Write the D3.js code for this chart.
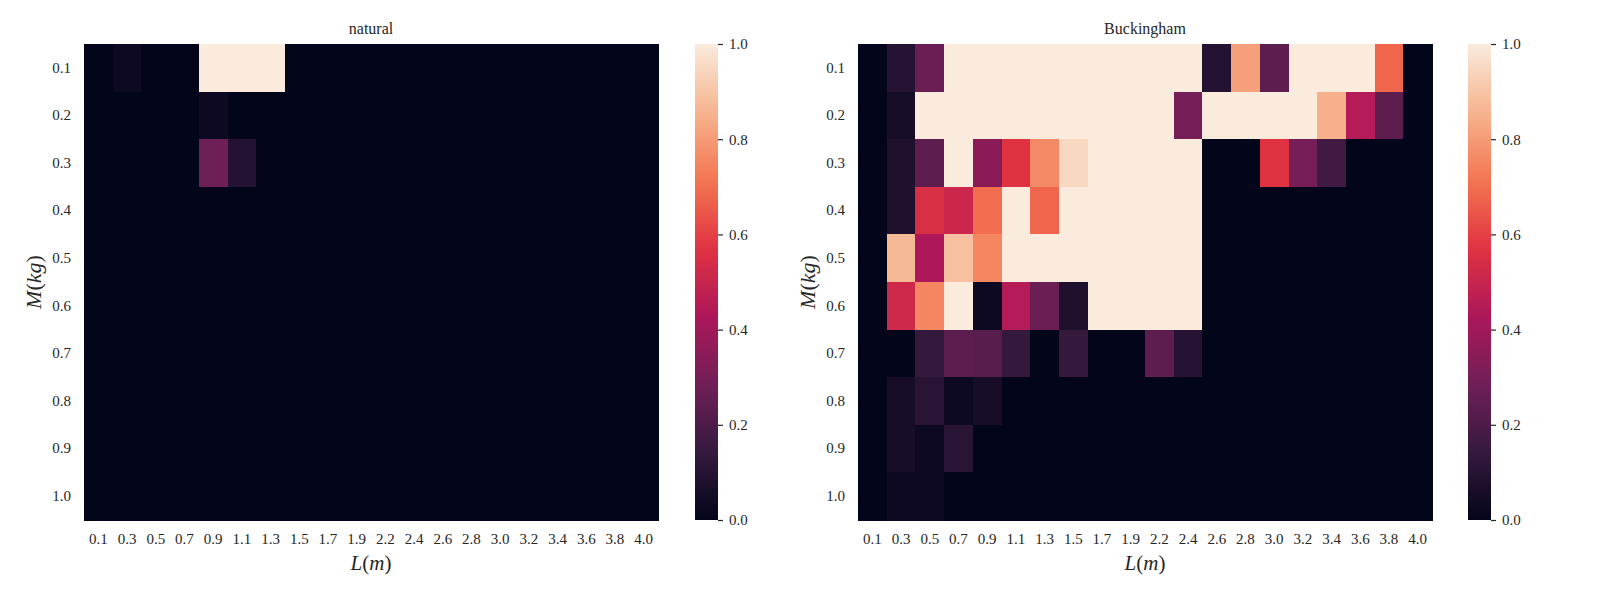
<!DOCTYPE html>
<html>
<head>
<meta charset="utf-8">
<script src="https://cdn.jsdelivr.net/npm/d3@7"></script>
<style>
  html, body { margin: 0; padding: 0; background: #fff; }
  svg { display: block; font-family: "Liberation Serif", "DejaVu Serif", serif; }
</style>
</head>
<body>
<svg id="chart" width="1600" height="600"></svg>
<script>
// ---- data ----
const lengths = ["0.1","0.3","0.5","0.7","0.9","1.1","1.3","1.5","1.7","1.9","2.2","2.4","2.6","2.8","3.0","3.2","3.4","3.6","3.8","4.0"];
const masses = ["0.1","0.2","0.3","0.4","0.5","0.6","0.7","0.8","0.9","1.0"];
const colorbarTicks = [0, 0.2, 0.4, 0.6, 0.8, 1.0];
const titles = ["natural", "Buckingham"];

const natural = [
  [0,0.03,0,0,1,1,1,0,0,0,0,0,0,0,0,0,0,0,0,0],
  [0,0,0,0,0.03,0,0,0,0,0,0,0,0,0,0,0,0,0,0,0],
  [0,0,0,0,0.28,0.09,0,0,0,0,0,0,0,0,0,0,0,0,0,0],
  [0,0,0,0,0,0,0,0,0,0,0,0,0,0,0,0,0,0,0,0],
  [0,0,0,0,0,0,0,0,0,0,0,0,0,0,0,0,0,0,0,0],
  [0,0,0,0,0,0,0,0,0,0,0,0,0,0,0,0,0,0,0,0],
  [0,0,0,0,0,0,0,0,0,0,0,0,0,0,0,0,0,0,0,0],
  [0,0,0,0,0,0,0,0,0,0,0,0,0,0,0,0,0,0,0,0],
  [0,0,0,0,0,0,0,0,0,0,0,0,0,0,0,0,0,0,0,0],
  [0,0,0,0,0,0,0,0,0,0,0,0,0,0,0,0,0,0,0,0]
];

const buckingham = [
  [0,0.10,0.27,1,1,1,1,1,1,1,1,1,0.09,0.81,0.24,1,1,1,0.68,0],
  [0,0.06,1,1,1,1,1,1,1,1,1,0.30,1,1,1,1,0.85,0.45,0.24,0],
  [0,0.08,0.24,1,0.35,0.57,0.76,0.95,1,1,1,1,0,0,0.57,0.30,0.17,0,0,0],
  [0,0.08,0.55,0.51,0.70,1,0.68,1,1,1,1,1,0,0,0,0,0,0,0,0],
  [0,0.87,0.43,0.89,0.75,1,1,1,1,1,1,1,0,0,0,0,0,0,0,0],
  [0,0.52,0.75,1,0.03,0.45,0.27,0.08,1,1,1,1,0,0,0,0,0,0,0,0],
  [0,0,0.14,0.24,0.23,0.14,0,0.14,0,0,0.24,0.10,0,0,0,0,0,0,0,0],
  [0,0.06,0.11,0.03,0.06,0,0,0,0,0,0,0,0,0,0,0,0,0,0,0],
  [0,0.06,0.03,0.11,0,0,0,0,0,0,0,0,0,0,0,0,0,0,0,0],
  [0,0.03,0.03,0,0,0,0,0,0,0,0,0,0,0,0,0,0,0,0,0]
];

// seaborn "rocket" colormap anchors
const rocketStops = ["#03051a","#35193e","#701f57","#ad1759","#e13342","#f37651","#f6b48f","#faebdd"];
const rocketPos = [0, 1/7, 2/7, 3/7, 4/7, 5/7, 6/7, 1];

// ---- layout ----
const svg = d3.select("#chart");
const textColor = "#262626";
const panels = [
  { title: titles[0], data: natural, x0: 84, x1: 658, cb0: 695, cb1: 718 },
  { title: titles[1], data: buckingham, x0: 858, x1: 1432, cb0: 1468, cb1: 1491 }
];
const y0 = 44, y1 = 520;

const rocket = d3.scaleLinear().domain(rocketPos).range(rocketStops).interpolate(d3.interpolateRgb).clamp(true);
const color = d3.scaleSequential(t => rocket(t)).domain([0, 1]);

const defs = svg.append("defs");
const grad = defs.append("linearGradient").attr("id", "rocketGrad")
  .attr("x1", "0").attr("y1", "1").attr("x2", "0").attr("y2", "0");
d3.range(0, 1.0001, 0.02).forEach(t => {
  grad.append("stop").attr("offset", t).attr("stop-color", color(t));
});

panels.forEach(p => {
  const x = d3.scaleBand().domain(lengths).range([p.x0, p.x1]).padding(0);
  const y = d3.scaleBand().domain(masses).range([y0, y1]).padding(0);

  const cells = [];
  p.data.forEach((row, i) => row.forEach((v, j) => cells.push({ m: masses[i], l: lengths[j], v })));

  const g = svg.append("g");
  g.selectAll("rect.cell").data(cells).enter().append("rect")
    .attr("class", "cell")
    .attr("x", d => x(d.l))
    .attr("y", d => y(d.m))
    .attr("width", x.bandwidth() + 0.5)
    .attr("height", y.bandwidth() + 0.5)
    .attr("fill", d => color(d.v))
    .attr("shape-rendering", "crispEdges");

  // x axis
  const xAxis = g.append("g").attr("transform", `translate(0,${y1 + 13})`)
    .call(d3.axisBottom(x).tickSize(0).tickPadding(0));
  xAxis.select(".domain").remove();
  xAxis.selectAll("text").attr("font-size", 15).attr("fill", textColor)
    .attr("font-family", "Liberation Serif").attr("dy", "0.71em");

  // y axis
  const yAxis = g.append("g").attr("transform", `translate(${p.x0 - 13},0)`)
    .call(d3.axisLeft(y).tickSize(0).tickPadding(0));
  yAxis.select(".domain").remove();
  yAxis.selectAll("text").attr("font-size", 15).attr("fill", textColor)
    .attr("font-family", "Liberation Serif");

  // title
  g.append("text").attr("x", (p.x0 + p.x1) / 2).attr("y", 34)
    .attr("text-anchor", "middle").attr("font-size", 16).attr("fill", textColor)
    .text(p.title);

  // x label L(m)
  const xl = g.append("text").attr("x", (p.x0 + p.x1) / 2).attr("y", 570)
    .attr("text-anchor", "middle").attr("font-size", 21).attr("fill", textColor);
  xl.append("tspan").attr("font-style", "italic").text("L");
  xl.append("tspan").text("(");
  xl.append("tspan").attr("font-style", "italic").text("m");
  xl.append("tspan").text(")");

  // y label M(kg)
  const yl = g.append("text")
    .attr("transform", `translate(${p.x0 - 43},${(y0 + y1) / 2}) rotate(-90)`)
    .attr("text-anchor", "middle").attr("font-size", 22).attr("fill", textColor);
  yl.append("tspan").attr("font-style", "italic").text("M");
  yl.append("tspan").text("(");
  yl.append("tspan").attr("font-style", "italic").text("kg");
  yl.append("tspan").text(")");

  // colorbar
  g.append("rect").attr("x", p.cb0).attr("y", y0).attr("width", p.cb1 - p.cb0).attr("height", y1 - y0)
    .attr("fill", "url(#rocketGrad)");
  const cbScale = d3.scaleLinear().domain([0, 1]).range([y1, y0]);
  const cbAxis = g.append("g").attr("transform", `translate(${p.cb1},0)`)
    .call(d3.axisRight(cbScale).tickValues(colorbarTicks).tickFormat(d3.format(".1f")).tickSize(5).tickPadding(6));
  cbAxis.select(".domain").remove();
  cbAxis.selectAll("line").attr("stroke", textColor).attr("stroke-width", 1.2);
  cbAxis.selectAll("text").attr("font-size", 15).attr("fill", textColor)
    .attr("font-family", "Liberation Serif");
});
</script>
</body>
</html>
